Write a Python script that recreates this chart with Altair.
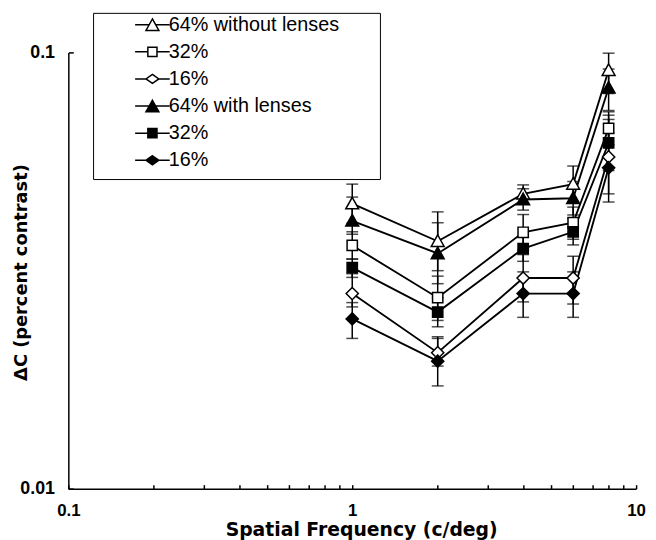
import altair as alt
import pandas as pd

# ---------------- data ----------------
freq = [1, 2, 4, 6, 8]

series = ["64% without lenses", "32% without", "16% without",
          "64% with lenses", "32% with", "16% with"]

mean_64_wo = [0.0450, 0.0369, 0.0474, 0.0499, 0.0910]
lo_64_wo = [0.0406, 0.0316, 0.0452, 0.0454, 0.0805]
hi_64_wo = [0.0499, 0.0431, 0.0497, 0.0549, 0.0996]

mean_32_wo = [0.0361, 0.0274, 0.0387, 0.0407, 0.0670]
lo_32_wo = [0.0336, 0.0243, 0.0352, 0.0373, 0.0614]
hi_32_wo = [0.0388, 0.0307, 0.0425, 0.0442, 0.0731]

mean_16_wo = [0.0280, 0.0205, 0.0304, 0.0304, 0.0576]
lo_16_wo = [0.0261, 0.0191, 0.0268, 0.0265, 0.0474]
hi_16_wo = [0.0311, 0.0221, 0.0344, 0.0341, 0.0702]

mean_64_w = [0.0411, 0.0346, 0.0460, 0.0463, 0.0829]
lo_64_w = [0.0383, 0.0295, 0.0435, 0.0424, 0.0736]
hi_64_w = [0.0466, 0.0407, 0.0487, 0.0506, 0.0916]

mean_32_w = [0.0321, 0.0254, 0.0355, 0.0388, 0.0620]
lo_32_w = [0.0305, 0.0235, 0.0332, 0.0362, 0.0536]
hi_32_w = [0.0336, 0.0274, 0.0378, 0.0416, 0.0718]

mean_16_w = [0.0245, 0.0196, 0.0280, 0.0280, 0.0544]
lo_16_w = [0.0221, 0.0172, 0.0247, 0.0247, 0.0454]
hi_16_w = [0.0267, 0.0223, 0.0314, 0.0314, 0.0653]

x_label_values = [0.1, 1, 10]
x_tick_values = [0.1, 0.2, 0.3, 0.4, 0.5, 0.6, 0.7, 0.8, 0.9,
                 1, 2, 3, 4, 5, 6, 7, 8, 9, 10]
y_values = [0.01, 0.1]

means = [mean_64_wo, mean_32_wo, mean_16_wo, mean_64_w, mean_32_w, mean_16_w]
los = [lo_64_wo, lo_32_wo, lo_16_wo, lo_64_w, lo_32_w, lo_16_w]
his = [hi_64_wo, hi_32_wo, hi_16_wo, hi_64_w, hi_32_w, hi_16_w]

rows = []
for s, m, l, h in zip(series, means, los, his):
    for f, mv, lv, hv in zip(freq, m, l, h):
        rows.append({"series": s, "freq": f, "mean": mv, "lo": lv, "hi": hv})
df = pd.DataFrame(rows)

# ---------------- styling ----------------
W, H = 574, 441
TRI = "M0,-1L1,0.8L-1,0.8Z"
SQR = "M-0.8,-0.8H0.8V0.8H-0.8Z"
DIA = "M0,-0.95L0.95,0L0,0.95L-0.95,0Z"
point_shapes = [TRI, SQR, DIA, TRI, SQR, DIA]
fills = ["white", "white", "white", "black", "black", "black"]
strokes = ["black"] * 6

EXT = "M32.1,0"
L_TRI = "M-2.5,0H-0.47M0.47,0H2.5M0,-0.83L0.93,0.83L-0.93,0.83Z" + EXT
L_SQR = "M-2.5,0H-0.66M0.66,0H2.5M-0.66,-0.66H0.66V0.66H-0.66Z" + EXT
L_DIA = "M-2.5,0H-0.93M0.93,0H2.5M0,-0.65L0.93,0L0,0.65L-0.93,0Z" + EXT
legend_shapes = [L_TRI, L_SQR, L_DIA, L_TRI, L_SQR, L_DIA + "M0,1.86"]

xscale = alt.Scale(type="log", domain=[0.1, 10], nice=False)
yscale = alt.Scale(type="log", domain=[0.01, 0.1], nice=False)

x_label_axis = alt.Axis(
    orient="bottom", values=x_label_values, format="~g", ticks=False, tickSize=0,
    domain=True, domainColor="black", domainWidth=1.5, grid=False,
    labelFont="Liberation Sans", labelFontSize=17, labelFontWeight="bold",
    labelColor="black", labelPadding=14, labelFlush=False, labelOverlap=False,
    title="Spatial Frequency (c/deg)", titleFont="DejaVu Sans", titleFontSize=19,
    titleFontWeight="bold", titleColor="black", titleX=296, titleY=41.5,
    titleBaseline="middle", titleAlign="center")
x_tick_axis = alt.Axis(
    orient="top", offset=-H, values=x_tick_values, labels=False, domain=False,
    ticks=True, tickSize=4, tickWidth=1.5, tickColor="black", grid=False, title=None)
y_label_axis = alt.Axis(
    orient="left", values=y_values, format="~g", ticks=False, tickSize=0,
    domain=True, domainColor="black", domainWidth=1.5, grid=False,
    labelFont="Liberation Sans", labelFontSize=18, labelFontWeight="bold",
    labelColor="black", labelPadding=14, labelFlush=False, labelOverlap=False,
    title="ΔC (percent contrast)", titleFont="DejaVu Sans", titleFontSize=18,
    titleFontWeight="bold", titleColor="black", titleX=-47, titleY=222,
    titleAngle=270, titleBaseline="middle", titleAlign="center")
y_tick_axis = alt.Axis(
    orient="right", offset=-W, values=y_values, labels=False, domain=False,
    ticks=True, tickSize=5, tickWidth=1.5, tickColor="black", grid=False, title=None)

base = alt.Chart(df)

bars = base.mark_rule(color="black", strokeWidth=1.5).encode(
    x=alt.X("freq:Q", scale=xscale, axis=None),
    y=alt.Y("lo:Q", scale=yscale, axis=None),
    y2="hi:Q",
)

caps = base.transform_fold(["lo", "hi"], as_=["end", "val"]).mark_tick(
    orient="horizontal", size=12, thickness=1.5, color="black"
).encode(
    x=alt.X("freq:Q", scale=xscale, axis=None),
    y=alt.Y("val:Q", scale=yscale, axis=None),
)

lines = base.mark_line(color="black", strokeWidth=1.9).encode(
    x=alt.X("freq:Q", scale=xscale, axis=x_label_axis),
    y=alt.Y("mean:Q", scale=yscale, axis=y_label_axis),
    detail="series:N",
    order="freq:Q",
)

points = base.mark_point(size=169, stroke="black", strokeWidth=1.5, opacity=1,
                         fillOpacity=1).encode(
    x=alt.X("freq:Q", scale=xscale, axis=x_tick_axis),
    y=alt.Y("mean:Q", scale=yscale, axis=y_tick_axis),
    shape=alt.Shape("series:N", scale=alt.Scale(domain=series, range=point_shapes),
                    legend=None),
    fill=alt.Fill("series:N", scale=alt.Scale(domain=series, range=fills), legend=None),
)

leg = alt.Legend(
    orient="none", legendX=25, legendY=-40, title=None, direction="vertical",
    strokeColor="black", fillColor="white", padding=2, rowPadding=7.4,
    symbolSize=196, symbolStrokeWidth=1.5, symbolStrokeColor="black",
    symbolOffset=48, labelOffset=6.5,
    labelFont="Liberation Sans", labelFontSize=20, labelColor="black", labelLimit=400,
    labelExpr="indexof(datum.label, 'lenses') >= 0 ? datum.label : split(datum.label, ' ')[0]",
)

legend_layer = base.transform_filter("false").mark_point(
    size=196, strokeWidth=1.5, opacity=1, fillOpacity=1
).encode(
    shape=alt.Shape("series:N", scale=alt.Scale(domain=series, range=legend_shapes),
                    legend=leg),
    fill=alt.Fill("series:N", scale=alt.Scale(domain=series, range=fills), legend=leg),
    stroke=alt.Stroke("series:N", scale=alt.Scale(domain=series, range=strokes),
                      legend=leg),
)

chart = alt.layer(bars, caps, lines, points, legend_layer).resolve_axis(
    x="independent", y="independent"
).resolve_scale(
    shape="independent", fill="independent", stroke="independent"
).properties(
    width=W, height=H,
    autosize=alt.AutoSizeParams(type="none"),
    padding={"left": 61, "top": 42, "right": 12, "bottom": 49},
    background="white",
).configure_view(stroke=None)

chart.save("out.html", embed_options={"renderer": "svg", "actions": False})
